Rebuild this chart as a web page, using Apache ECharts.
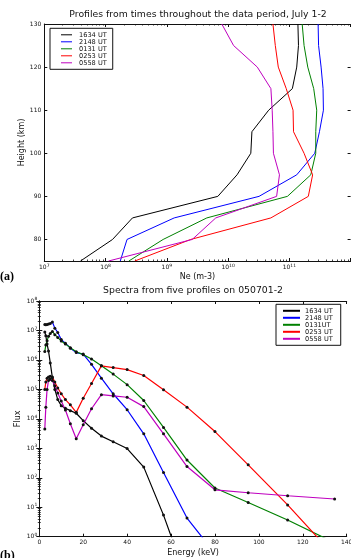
<!DOCTYPE html>
<html>
<head>
<meta charset="utf-8">
<script src="https://cdn.jsdelivr.net/npm/echarts@6/dist/echarts.min.js"></script>
<style>
    html, body { margin: 0; padding: 0; background: #fff; }
    #chart { width: 351px; height: 558px; }
</style>
</head>
<body>
<div id="chart"></div>
<script>
    // (a) electron density profiles: Ne (m-3) at each height (km)
    var heights = [75, 80, 85, 90, 95, 100, 105, 110, 115, 120, 125, 130];
    var heightTicks = [80, 90, 100, 110, 120, 130];
    var ne1634 = [3.9e7, 1.3e8, 2.75e8, 6.8e9, 1.4e10, 2.35e10, 2.45e10, 4.6e10, 1.12e11, 1.32e11, 1.41e11, 1.38e11];
    var ne2148 = [1.74e8, 2.24e8, 1.32e9, 3.2e10, 1.32e11, 2.6e11, 3.1e11, 3.6e11, 3.55e11, 3.3e11, 3.0e11, 2.95e11];
    var ne0131 = [2.4e8, 8.7e8, 4.5e9, 9.3e10, 2.24e11, 2.7e11, 2.7e11, 2.8e11, 2.5e11, 2.0e11, 1.74e11, 1.62e11];
    var ne0253 = [3.0e8, 2.45e9, 5.0e10, 2.04e11, 2.4e11, 1.74e11, 1.17e11, 1.15e11, 8.9e10, 6.6e10, 5.9e10, 5.4e10];
    var ne0558 = [1.12e8, 2.6e9, 6.3e9, 6.2e10, 6.9e10, 5.5e10, 5.4e10, 5.25e10, 5.0e10, 3.0e10, 1.23e10, 7.9e9];
    var profileNames = ['1634 UT', '2148 UT', '0131 UT', '0253 UT', '0558 UT'];

    // (b) spectra: flux at each energy (keV)
    var energies = [2.5, 2.97, 3.54, 4.2, 5.0, 5.95, 7.07, 8.41, 10, 11.89, 14.14, 16.82, 20, 23.78, 28.28, 33.64, 40, 47.57, 56.57, 67.27, 80, 95.14, 113.1, 134.5];
    var flux1634 = [8.9e6, 6.6e6, 3.5e6, 2.0e6, 7.9e5, 2.5e5, 1.0e5, 4.5e4, 2.8e4, 2.3e4, 1.9e4, 1.55e4, 8.7e3, 4.8e3, 2.6e3, 1.66e3, 980, 230, 5.4, 0.033];
    var flux2148 = [1.58e7, 1.55e7, 1.58e7, 1.66e7, 1.74e7, 1.95e7, 1.2e7, 8.5e6, 4.9e6, 3.7e6, 2.5e6, 1.78e6, 1.58e6, 7.1e5, 2.4e5, 7.1e4, 2.04e4, 3.1e3, 151, 4.3, 0.27];
    var flux0131 = [1.95e6, 3.2e6, 4.5e6, 6.3e6, 7.9e6, 9.3e6, 7.2e6, 5.8e6, 4.4e6, 3.5e6, 2.6e6, 1.9e6, 1.51e6, 1.07e6, 6.3e5, 3.3e5, 1.45e5, 4.2e4, 5.1e3, 400, 45, 14.5, 3.7, 0.62];
    var flux0253 = [1.0e5, 1.78e5, 2.4e5, 2.63e5, 2.8e5, 2.63e5, 1.78e5, 1.12e5, 7.1e4, 4.5e4, 3.0e4, 1.66e4, 5.0e4, 1.58e5, 6.3e5, 5.5e5, 4.7e5, 2.95e5, 9.8e4, 2.5e4, 3.7e3, 275, 12, 0.22];
    var flux0558 = [4.5e3, 2.5e4, 1.0e5, 2.0e5, 2.24e5, 2.0e5, 1.32e5, 7.6e4, 4.0e4, 2.0e4, 6.8e3, 2.1e3, 6.3e3, 2.2e4, 6.6e4, 6.0e4, 5.4e4, 2.6e4, 3.1e3, 240, 39, 31, 24.5, 19];
    var spectraNames = ['1634 UT', '2148 UT', '0131UT', '0253 UT', '0558 UT'];

    var colors = ['#000000', '#0000ff', '#008000', '#ff0000', '#bf00bf'];
    var ink = '#111';
    var font = 'DejaVu Sans';

    var chart = echarts.init(document.getElementById('chart'));

    function logLabel(v) {
        return '{b|10}{s|' + Math.round(Math.log10(v)) + '}';
    }
    var logRich = {
        b: {fontSize: 6, fontFamily: font, color: ink},
        s: {fontSize: 4.5, fontFamily: font, color: ink, padding: [0, 0, 4, 0]}
    };
    var nameStyle = {fontSize: 8, fontFamily: font, color: ink};
    var plainLabel = {show: true, fontSize: 6, fontFamily: font, color: ink};

    function ticks(extra) {
        return Object.assign({show: true, inside: true, length: 3, lineStyle: {color: ink, width: 1}}, extra || {});
    }
    var minor = {show: true, splitNumber: 9, length: 1.5, lineStyle: {color: ink, width: 0.8}};

    function frame(o) {
        return Object.assign({
            axisLine: {show: true, lineStyle: {color: ink, width: 1}},
            axisTick: ticks(),
            splitLine: {show: false},
            axisLabel: {show: false},
            nameMoveOverlap: false
        }, o);
    }

    var profileSeries = [ne1634, ne2148, ne0131, ne0253, ne0558].map(function (ne, i) {
        return {
            type: 'line',
            name: profileNames[i],
            xAxisIndex: 0,
            yAxisIndex: 0,
            symbol: 'none',
            data: heights.map(function (h, j) { return [ne[j], h]; }),
            lineStyle: {color: colors[i], width: 1},
            itemStyle: {color: colors[i]}
        };
    });

    var spectraSeries = [flux1634, flux2148, flux0131, flux0253, flux0558].map(function (f, i) {
        var pts = [];
        energies.forEach(function (e, j) {
            if (f[j] !== undefined) pts.push([e, f[j]]);
        });
        return {
            type: 'line',
            name: spectraNames[i],
            xAxisIndex: 2,
            yAxisIndex: 2,
            symbol: 'circle',
            symbolSize: 3,
            data: pts,
            lineStyle: {color: colors[i], width: 1.2},
            itemStyle: {color: ink, borderWidth: 0}
        };
    });

    function legendItems(names) {
        return names.map(function (n, i) {
            return {name: n, itemStyle: {color: colors[i]}};
        });
    }

    chart.setOption({
        animation: false,
        grid: [
            {left: 44.3, top: 24, width: 306.3, height: 237, outerBoundsMode: 'none'},
            {left: 44.3, top: 24, width: 306.3, height: 237, outerBoundsMode: 'none'},
            {left: 39.3, top: 301, width: 307.4, height: 235.7, outerBoundsMode: 'none'},
            {left: 39.3, top: 301, width: 307.4, height: 235.7, outerBoundsMode: 'none'}
        ],
        xAxis: [
            frame({gridIndex: 0, type: 'log', min: 1e7, max: 1e12, position: 'bottom',
                minorTick: minor,
                axisLabel: {show: true, margin: 2, formatter: logLabel, rich: logRich, showMaxLabel: false},
                name: 'Ne (m-3)', nameLocation: 'middle', nameGap: 11.5, nameTextStyle: nameStyle}),
            frame({gridIndex: 1, type: 'log', min: 1e7, max: 1e12, position: 'top', minorTick: minor}),
            frame({gridIndex: 2, type: 'value', min: 0, max: 140, interval: 20, position: 'bottom',
                axisLabel: Object.assign({margin: 3}, plainLabel),
                name: 'Energy (keV)', nameLocation: 'middle', nameGap: 12, nameTextStyle: nameStyle}),
            frame({gridIndex: 3, type: 'value', min: 0, max: 140, interval: 20, position: 'top'})
        ],
        yAxis: [
            frame({gridIndex: 0, type: 'value', min: 75, max: 130, position: 'left',
                axisTick: ticks({customValues: heightTicks}),
                axisLabel: Object.assign({margin: 3, customValues: heightTicks}, plainLabel),
                name: 'Height (km)', nameLocation: 'middle', nameGap: 18, nameTextStyle: nameStyle}),
            frame({gridIndex: 1, type: 'value', min: 75, max: 130, position: 'right',
                axisLine: {show: false},
                axisTick: ticks({customValues: heightTicks})}),
            frame({gridIndex: 2, type: 'log', min: 1, max: 1e8, position: 'left',
                minorTick: minor,
                axisLabel: {show: true, margin: 2, formatter: logLabel, rich: logRich},
                name: 'Flux', nameLocation: 'middle', nameGap: 17, nameTextStyle: nameStyle}),
            frame({gridIndex: 3, type: 'log', min: 1, max: 1e8, position: 'right', minorTick: minor})
        ],
        legend: [
            {
                orient: 'vertical', left: 50, top: 28.3,
                data: legendItems(profileNames),
                icon: 'path://M0,0 M0,2.5 L11,2.5 L11,3.5 L0,3.5 Z M13,6',
                itemWidth: 13, itemHeight: 6, itemGap: 0, symbolKeepAspect: false,
                itemStyle: {borderWidth: 0},
                padding: [3, 6, 3, 11],
                borderColor: ink, borderWidth: 1,
                selectedMode: false,
                textStyle: {fontSize: 6.6, lineHeight: 6, fontFamily: font, color: ink}
            },
            {
                orient: 'vertical', left: 276, top: 304.3,
                data: legendItems(spectraNames),
                icon: 'path://M0,0 M0,2 L17,2 L17,4 L0,4 Z M17,6',
                itemWidth: 17, itemHeight: 6, itemGap: 0, symbolKeepAspect: false,
                itemStyle: {borderWidth: 0},
                padding: [3, 8, 3, 7],
                borderColor: ink, borderWidth: 1,
                selectedMode: false,
                textStyle: {fontSize: 6.6, lineHeight: 6, fontFamily: font, color: ink}
            }
        ],
        graphic: [
            {type: 'text', x: 198, y: 14.7, style: {text: 'Profiles from times throughout the data period, July 1-2',
                font: '9.3px "DejaVu Sans"', fill: ink, align: 'center', verticalAlign: 'middle'}},
            {type: 'text', x: 193, y: 290.7, style: {text: 'Spectra from five profiles on 050701-2',
                font: '9.3px "DejaVu Sans"', fill: ink, align: 'center', verticalAlign: 'middle'}},
            {type: 'text', x: 0, y: 276.7, style: {text: '(a)', font: 'bold 12px "Liberation Serif"',
                fill: '#000', verticalAlign: 'middle'}},
            {type: 'text', x: 0, y: 556, style: {text: '(b)', font: 'bold 12px "Liberation Serif"',
                fill: '#000', verticalAlign: 'middle'}}
        ],
        series: profileSeries.concat(spectraSeries)
    });
</script>
</body>
</html>
